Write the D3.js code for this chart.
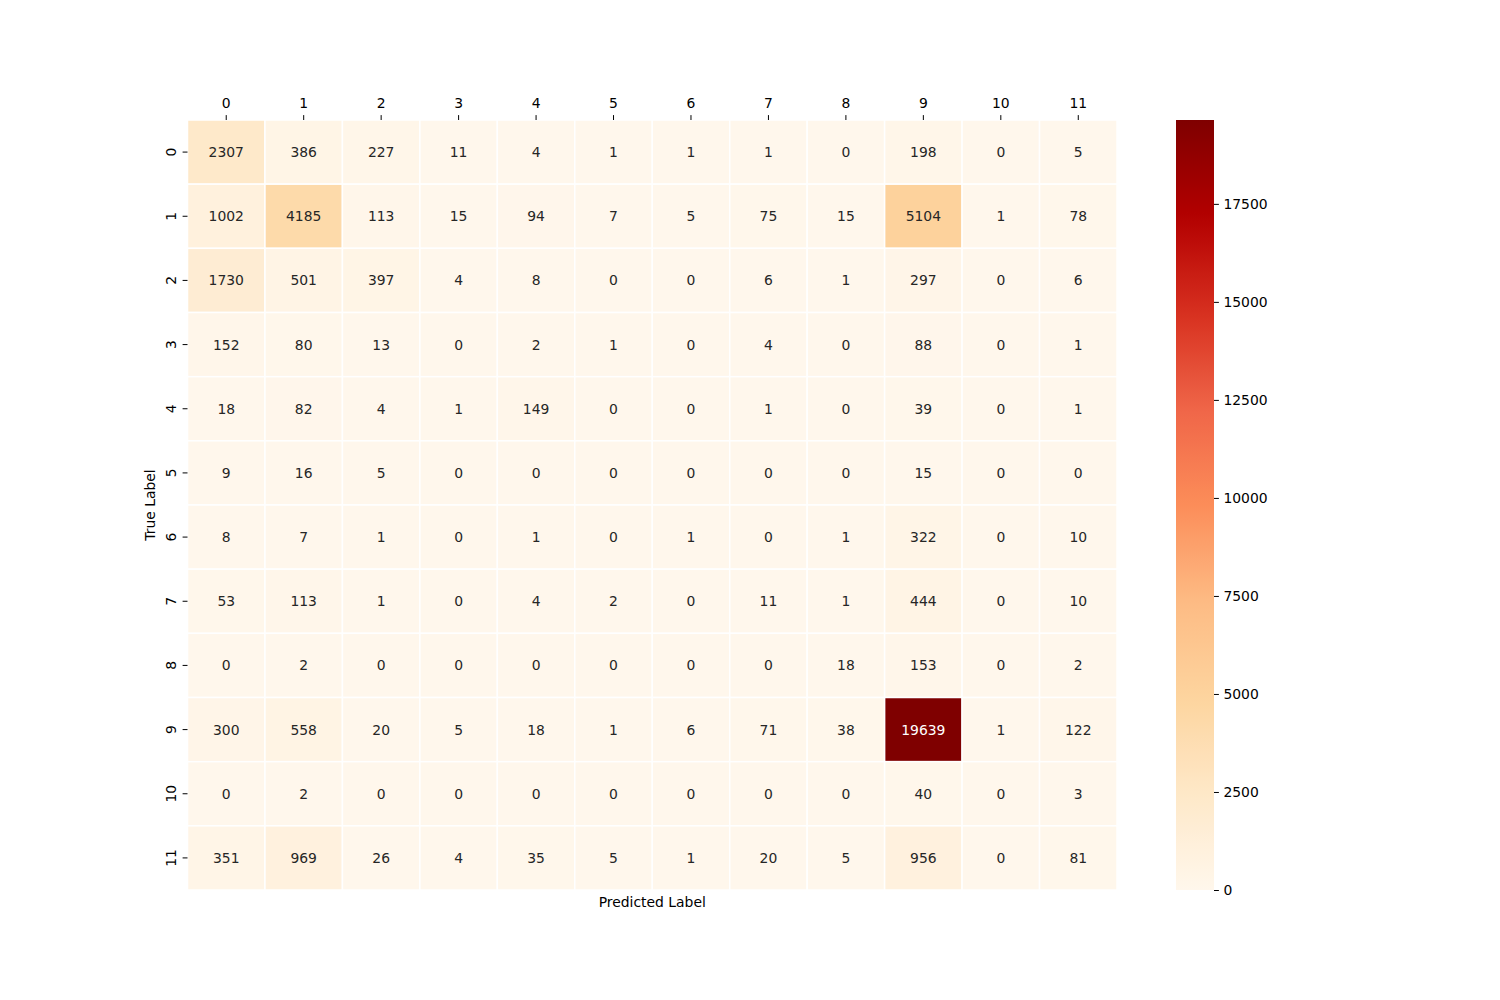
<!DOCTYPE html>
<html>
<head>
<meta charset="utf-8">
<script src="https://cdn.jsdelivr.net/npm/d3@7"></script>
<style>
body { margin: 0; background: #fff; }
text { font-family: "DejaVu Sans", sans-serif; }
</style>
</head>
<body>
<svg id="chart" width="1500" height="1000"></svg>
<script>
var labels = ["0","1","2","3","4","5","6","7","8","9","10","11"];
var matrix = [
  [2307, 386, 227, 11, 4, 1, 1, 1, 0, 198, 0, 5],
  [1002, 4185, 113, 15, 94, 7, 5, 75, 15, 5104, 1, 78],
  [1730, 501, 397, 4, 8, 0, 0, 6, 1, 297, 0, 6],
  [152, 80, 13, 0, 2, 1, 0, 4, 0, 88, 0, 1],
  [18, 82, 4, 1, 149, 0, 0, 1, 0, 39, 0, 1],
  [9, 16, 5, 0, 0, 0, 0, 0, 0, 15, 0, 0],
  [8, 7, 1, 0, 1, 0, 1, 0, 1, 322, 0, 10],
  [53, 113, 1, 0, 4, 2, 0, 11, 1, 444, 0, 10],
  [0, 2, 0, 0, 0, 0, 0, 0, 18, 153, 0, 2],
  [300, 558, 20, 5, 18, 1, 6, 71, 38, 19639, 1, 122],
  [0, 2, 0, 0, 0, 0, 0, 0, 0, 40, 0, 3],
  [351, 969, 26, 4, 35, 5, 1, 20, 5, 956, 0, 81]
];
var cbar_ticks = [0, 2500, 5000, 7500, 10000, 12500, 15000, 17500];
var orrd = ["#fff7ec","#fee8c8","#fdd49e","#fdbb84","#fc8d59","#ef6548","#d7301f","#b30000","#7f0000"];

var hm_left = 187.5, hm_top = 120, hm_right = 1117, hm_bottom = 890;
var cb_left = 1176, cb_right = 1214;
var fs = "13.9px";
var svg = d3.select("#chart");

var vmax = d3.max(matrix, function(r){ return d3.max(r); });
var color = d3.scaleLinear()
    .domain(orrd.map(function(c, i){ return vmax * i / (orrd.length - 1); }))
    .range(orrd)
    .interpolate(d3.interpolateRgb);

var x = d3.scaleBand().domain(labels).range([hm_left, hm_right]);
var y = d3.scaleBand().domain(labels).range([hm_top, hm_bottom]);

var cells = [];
matrix.forEach(function(row, i){
    row.forEach(function(v, j){
        cells.push({r: labels[i], c: labels[j], v: v});
    });
});

function textColor(v){
    var c = d3.rgb(color(v));
    var lum = [c.r, c.g, c.b].map(function(u){
        u = u / 255;
        return u <= 0.03928 ? u / 12.92 : Math.pow((u + 0.055) / 1.055, 2.4);
    });
    var l = 0.2126 * lum[0] + 0.7152 * lum[1] + 0.0722 * lum[2];
    return l > 0.408 ? "#262626" : "#ffffff";
}

var g = svg.append("g");
g.selectAll("rect.cell")
    .data(cells)
    .enter().append("rect")
    .attr("class", "cell")
    .attr("x", function(d){ return x(d.c); })
    .attr("y", function(d){ return y(d.r); })
    .attr("width", x.bandwidth())
    .attr("height", y.bandwidth())
    .attr("fill", function(d){ return color(d.v); })
    .attr("stroke", "#ffffff")
    .attr("stroke-width", 1.5);

g.selectAll("text.val")
    .data(cells)
    .enter().append("text")
    .attr("class", "val")
    .attr("x", function(d){ return x(d.c) + x.bandwidth() / 2; })
    .attr("y", function(d){ return y(d.r) + y.bandwidth() / 2; })
    .attr("text-anchor", "middle")
    .attr("dominant-baseline", "central")
    .style("font-size", fs)
    .style("fill", function(d){ return textColor(d.v); })
    .text(function(d){ return d.v; });

// x axis on top
var xAxis = svg.append("g")
    .attr("transform", "translate(0," + hm_top + ")")
    .call(d3.axisTop(x).tickSize(4.9).tickPadding(7));
xAxis.select(".domain").remove();
xAxis.selectAll("text").style("font-size", fs).style("font-family", "DejaVu Sans").attr("fill", "#000");
xAxis.selectAll("line").attr("stroke", "#000").attr("stroke-width", 1);

// y axis, rotated labels
var yAxis = svg.append("g")
    .attr("transform", "translate(" + hm_left + ",0)")
    .call(d3.axisLeft(y).tickSize(4.9).tickPadding(4.5));
yAxis.select(".domain").remove();
yAxis.selectAll("line").attr("stroke", "#000").attr("stroke-width", 1);
yAxis.selectAll("text")
    .style("font-size", fs).style("font-family", "DejaVu Sans").attr("fill", "#000")
    .attr("x", null).attr("dy", null)
    .attr("text-anchor", "middle")
    .attr("dominant-baseline", "central")
    .attr("transform", "translate(-17,0) rotate(-90)");

svg.append("text")
    .attr("x", (hm_left + hm_right) / 2)
    .attr("y", 907)
    .attr("text-anchor", "middle")
    .style("font-size", fs)
    .text("Predicted Label");

svg.append("text")
    .attr("transform", "translate(155," + (hm_top + hm_bottom) / 2 + ") rotate(-90)")
    .attr("text-anchor", "middle")
    .style("font-size", fs)
    .text("True Label");

// colorbar
var cb = d3.scaleLinear().domain([0, vmax]).range([hm_bottom, hm_top]);
var defs = svg.append("defs");
var grad = defs.append("linearGradient")
    .attr("id", "cbgrad")
    .attr("x1", 0).attr("y1", 1).attr("x2", 0).attr("y2", 0);
grad.selectAll("stop")
    .data(d3.range(0, 1.0001, 0.02))
    .enter().append("stop")
    .attr("offset", function(t){ return t; })
    .attr("stop-color", function(t){ return color(t * vmax); });

svg.append("rect")
    .attr("x", cb_left)
    .attr("y", hm_top)
    .attr("width", cb_right - cb_left)
    .attr("height", hm_bottom - hm_top)
    .attr("fill", "url(#cbgrad)");

var cbAxis = svg.append("g")
    .attr("transform", "translate(" + cb_right + ",0)")
    .call(d3.axisRight(cb).tickValues(cbar_ticks).tickSize(4.9).tickPadding(4.5).tickFormat(d3.format("d")));
cbAxis.select(".domain").remove();
cbAxis.selectAll("line").attr("stroke", "#000");
cbAxis.selectAll("text").style("font-size", fs).style("font-family", "DejaVu Sans").attr("fill", "#000");
</script>
</body>
</html>
